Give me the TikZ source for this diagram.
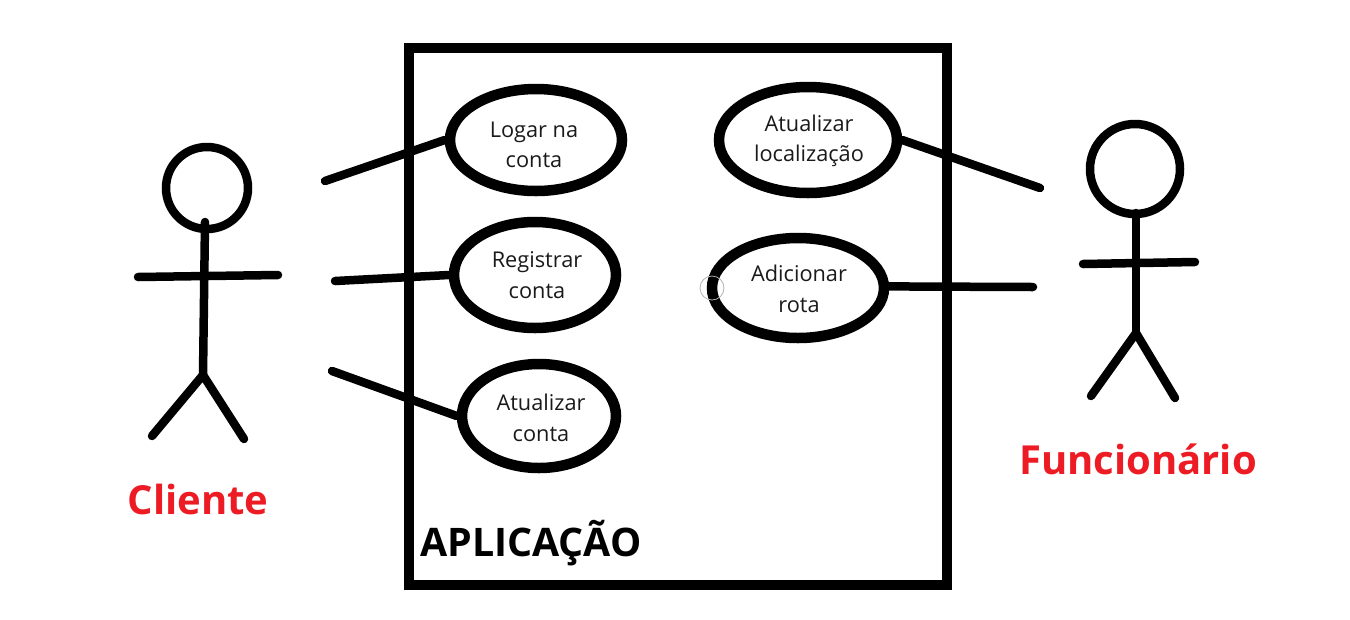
\documentclass[tikz,border=0pt]{standalone}
\usepackage{fontspec}
\setmainfont{Open Sans}
\usetikzlibrary{shapes.geometric}
\definecolor{lab}{HTML}{ED1C24}
\definecolor{ink}{HTML}{1A1A1A}
\tikzset{
  heavy/.style={line width=8.5pt*0.75,line cap=round,line join=round,draw=black},
  usecase/.style 2 args={ellipse,draw=black,line width=10.5pt*0.75,fill=white,inner sep=0pt,
    minimum width=#1*1.5pt,minimum height=#2*1.5pt},
  caselabel/.style={inner sep=0pt,align=center,text=ink,font=\fontsize{16.3pt}{23pt}\selectfont},
  actorhead/.style={circle,draw=black,line width=8.5pt*0.75,inner sep=0pt,minimum size=#1*1.5pt},
  actorname/.style={font=\bfseries\fontsize{30pt}{34pt}\selectfont,text=lab,inner sep=0pt},
  boxlabel/.style={font=\bfseries\fontsize{29.5pt}{32pt}\selectfont,text=black,inner sep=0pt},
  systembox/.style={draw=black,line width=10pt*0.75,line join=miter},
  cursorring/.style={circle,draw=black!30,line width=0.6pt,inner sep=0pt,minimum size=18pt},
}
\begin{document}
\begin{tikzpicture}[x=0.75pt,y=-0.75pt]
\useasboundingbox (0,0) rectangle (1350,619);
\fill[white] (0,0) rectangle (1350,619);
% system box
\draw[systembox] (409,48) rectangle (947,585);
\node[boxlabel,anchor=base west] (app) at (420,556) {APLICAÇÃO};
% free ends
\coordinate (c1) at (325,181);
\coordinate (c2) at (335,281);
\coordinate (c3) at (332,371);
\coordinate (f1) at (1040,188);
\coordinate (f2) at (1033,287);
% use cases
\node[usecase={86}{51}] (logar) at (536,140) {};
\node[usecase={81}{53}] (registrar) at (535,275) {};
\node[usecase={77}{52}] (atconta) at (539,416) {};
\node[usecase={89}{53}] (atloc) at (808,140) {};
\node[usecase={86}{50}] (rota) at (798,288) {};
\node[caselabel] (tlogar) at (534,145) {Logar na\\conta};
\node[caselabel] (tregistrar) at (537,275) {Registrar\\conta};
\node[caselabel] (tatconta) at (541,418) {Atualizar\\conta};
\node[caselabel] (tatloc) at (809,141) {Atualizar\\localização};
\node[caselabel] (trota) at (799,289) {Adicionar\\rota};
\node[cursorring] (ring) at (712,288) {};
% connectors
\draw[heavy] (c1) -- (logar.west);
\draw[heavy] (c2) -- (registrar.west);
\draw[heavy] (c3) -- (atconta.west);
\draw[heavy] (atloc.east) -- (f1);
\draw[heavy] (rota.1) -- (f2);
% Cliente actor
\coordinate (chip) at (203,375);
\coordinate (cneck) at (205,222);
\coordinate (carml) at (138,277);
\coordinate (carmr) at (278,275);
\coordinate (clegl) at (152,436);
\coordinate (clegr) at (244,439);
\node[actorhead=41] (chead) at (207,188) {};
\draw[heavy] (cneck) -- (chip);
\draw[heavy] (carml) -- (carmr);
\draw[heavy] (clegl) -- (chip) -- (clegr);
\node[actorname] (cliente) at (198,499) {Cliente};
% Funcionario actor
\coordinate (fhip) at (1136,333);
\coordinate (fneck) at (1136,213);
\coordinate (farml) at (1083,264);
\coordinate (farmr) at (1195,262);
\coordinate (flegl) at (1091,396);
\coordinate (flegr) at (1175,398);
\node[actorhead=45] (fhead) at (1135,169) {};
\draw[heavy] (fneck) -- (fhip);
\draw[heavy] (farml) -- (farmr);
\draw[heavy] (flegl) -- (fhip) -- (flegr);
\node[actorname] (func) at (1138,459) {Funcionário};
\end{tikzpicture}
\end{document}
